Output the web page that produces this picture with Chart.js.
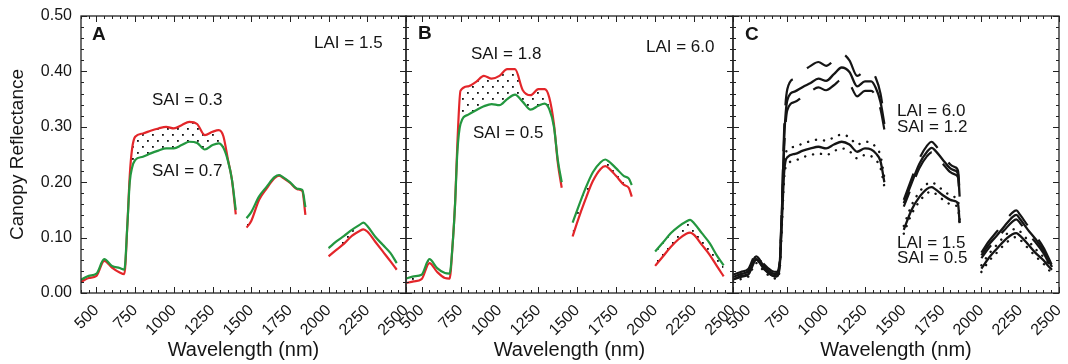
<!DOCTYPE html>
<html>
<head>
<meta charset="utf-8">
<script src="https://cdn.jsdelivr.net/npm/chart.js@4"></script>
<style>
  html, body { margin: 0; padding: 0; background: #fff; }
  #wrap { position: relative; width: 1068px; height: 364px; }
  #wrap canvas { position: absolute; left: 0; top: 0; }
</style>
</head>
<body>
<div id="wrap">
  <canvas id="panelA" width="1068" height="364"></canvas>
  <canvas id="panelB" width="1068" height="364"></canvas>
  <canvas id="panelC" width="1068" height="364"></canvas>
</div>
<script>
// wavelength grid (nm); null values break the line at water bands
const wl = [400, 450, 500, 550, 600, 650, 680, 700, 715, 730, 750, 800, 850, 900, 950, 1000, 1050, 1100, 1150, 1200,
  1250, 1290, 1320, 1350, 1375, 1400, 1440, 1470, 1500, 1550, 1600, 1650, 1680, 1700, 1750, 1800, 1830, 1850, 1860,
  1930, 2000, 2050, 2100, 2150, 2200, 2225, 2250, 2300, 2350, 2400, 2440, 2455];

const xTicks = [500, 750, 1000, 1250, 1500, 1750, 2000, 2250, 2500];
const yTicks = [0, 0.1, 0.2, 0.3, 0.4, 0.5];

// Panel A, LAI = 1.5
const aSai03 = [0.020, 0.027, 0.031, 0.058, 0.046, 0.037, 0.034, 0.125, 0.212, 0.260, 0.282, 0.288, 0.293, 0.297, 0.300, 0.297, 0.303, 0.309, 0.305, 0.285,
  0.291, 0.294, 0.283, 0.240, 0.205, 0.142, null, 0.118, 0.130, 0.168, 0.189, 0.207, 0.212, 0.209, 0.199, 0.187, 0.184, 0.141, null,
  null, 0.066, 0.078, 0.089, 0.103, 0.112, 0.115, 0.111, 0.093, 0.075, 0.057, 0.042, null];
const aSai07 = [0.024, 0.031, 0.035, 0.061, 0.049, 0.045, 0.042, 0.125, 0.200, 0.226, 0.240, 0.246, 0.252, 0.257, 0.261, 0.261, 0.267, 0.273, 0.271, 0.259,
  0.267, 0.270, 0.262, 0.238, 0.205, 0.150, null, 0.135, 0.146, 0.174, 0.192, 0.209, 0.213, 0.210, 0.200, 0.188, 0.186, 0.155, null,
  null, 0.081, 0.093, 0.103, 0.114, 0.123, 0.127, 0.121, 0.102, 0.087, 0.072, 0.054, null];

// Panel B, LAI = 6.0
const bSai18 = [0.018, 0.021, 0.025, 0.054, 0.038, 0.027, 0.026, 0.090, 0.160, 0.270, 0.365, 0.373, 0.381, 0.392, 0.387, 0.392, 0.404, 0.404, 0.366, 0.357,
  0.368, 0.368, 0.353, 0.305, 0.235, 0.190, null, 0.102, 0.128, 0.167, 0.202, 0.224, 0.229, 0.226, 0.211, 0.195, 0.190, 0.174, null,
  null, 0.049, 0.066, 0.083, 0.097, 0.107, 0.109, 0.105, 0.087, 0.069, 0.047, 0.030, null];
const bSai05 = [0.026, 0.030, 0.033, 0.061, 0.045, 0.036, 0.035, 0.090, 0.160, 0.255, 0.305, 0.322, 0.330, 0.337, 0.341, 0.339, 0.350, 0.358, 0.345, 0.331,
  0.338, 0.342, 0.332, 0.300, 0.240, 0.200, null, 0.127, 0.150, 0.187, 0.218, 0.236, 0.241, 0.238, 0.225, 0.211, 0.207, 0.195, null,
  null, 0.075, 0.091, 0.108, 0.120, 0.129, 0.132, 0.126, 0.108, 0.090, 0.066, 0.050, null];

// Panel C, LAI = 6.0 / SAI = 1.2 (mean and spread lines)
const cHighMean = [0.029, 0.034, 0.040, 0.066, 0.048, 0.036, 0.034, 0.050, 0.150, 0.280, 0.348, 0.364, 0.372, 0.379, 0.387, 0.383, 0.395, 0.407, 0.399, 0.373,
  0.382, 0.382, 0.370, 0.345, 0.305, null, null, null, 0.162, 0.198, 0.233, 0.255, 0.262, 0.258, 0.241, 0.225, 0.221, 0.214, 0.174,
  null, 0.068, 0.088, 0.104, 0.121, 0.137, 0.141, 0.133, 0.114, 0.097, 0.077, 0.055, 0.047];
const cHighUp = [0.033, 0.038, 0.044, 0.071, 0.052, 0.040, 0.038, 0.055, 0.160, 0.300, 0.368, 0.388, 0.400, 0.410, 0.417, 0.410, 0.420, 0.432, 0.420, 0.392,
  0.400, 0.400, 0.388, 0.360, 0.315, null, null, null, 0.168, 0.206, 0.242, 0.266, 0.273, 0.268, 0.250, 0.232, 0.227, 0.220, 0.180,
  null, 0.073, 0.094, 0.111, 0.129, 0.145, 0.149, 0.141, 0.121, 0.103, 0.082, 0.059, 0.050];
const cHighLow = [0.025, 0.030, 0.036, 0.061, 0.044, 0.032, 0.030, 0.046, 0.145, 0.265, 0.330, 0.345, 0.355, 0.364, 0.371, 0.366, 0.375, 0.385, 0.378, 0.355,
  0.365, 0.365, 0.355, 0.332, 0.295, null, null, null, 0.156, 0.191, 0.225, 0.247, 0.254, 0.250, 0.234, 0.218, 0.214, 0.208, 0.168,
  null, 0.063, 0.082, 0.098, 0.114, 0.129, 0.133, 0.126, 0.107, 0.091, 0.072, 0.051, 0.043];

// Panel C, LAI = 1.5 / SAI = 0.5
const cLowMean = [0.024, 0.029, 0.034, 0.060, 0.043, 0.032, 0.030, 0.045, 0.130, 0.220, 0.245, 0.251, 0.257, 0.261, 0.264, 0.261, 0.268, 0.273, 0.268, 0.255,
  0.261, 0.259, 0.252, 0.238, 0.200, null, null, null, 0.114, 0.150, 0.173, 0.188, 0.191, 0.188, 0.177, 0.168, 0.166, 0.160, 0.126,
  null, 0.044, 0.064, 0.080, 0.095, 0.106, 0.108, 0.103, 0.088, 0.072, 0.059, 0.046, 0.042];
const cLowUp = [0.028, 0.033, 0.038, 0.066, 0.048, 0.036, 0.034, 0.050, 0.140, 0.232, 0.258, 0.264, 0.270, 0.274, 0.277, 0.275, 0.281, 0.286, 0.281, 0.268,
  0.273, 0.271, 0.263, 0.248, 0.208, null, null, null, 0.121, 0.158, 0.182, 0.197, 0.200, 0.197, 0.186, 0.176, 0.173, 0.167, 0.132,
  null, 0.050, 0.071, 0.087, 0.103, 0.114, 0.116, 0.111, 0.095, 0.079, 0.065, 0.051, 0.047];
const cLowDown = [0.020, 0.025, 0.030, 0.054, 0.039, 0.028, 0.026, 0.040, 0.120, 0.208, 0.232, 0.239, 0.245, 0.249, 0.252, 0.249, 0.256, 0.261, 0.256, 0.243,
  0.249, 0.247, 0.240, 0.226, 0.192, null, null, null, 0.107, 0.142, 0.165, 0.180, 0.183, 0.180, 0.169, 0.160, 0.158, 0.153, 0.120,
  null, 0.038, 0.058, 0.073, 0.088, 0.099, 0.101, 0.096, 0.081, 0.066, 0.053, 0.040, 0.037];

const RED = '#e3262a';
const GREEN = '#23973f';
const INK = '#151515';
const FONT = "'Liberation Sans', Arial, Helvetica, sans-serif";

Chart.defaults.font.family = FONT;
Chart.defaults.color = INK;

const pts = arr => wl.map((x, i) => ({ x: x, y: arr[i] }));

// dotted fill between two curves
function stipple() {
  const c = document.createElement('canvas');
  c.width = 10; c.height = 12;
  const g = c.getContext('2d');
  g.fillStyle = '#111';
  g.fillRect(2, 2, 1.8, 1.8);
  g.fillRect(7, 8, 1.8, 1.8);
  return g.createPattern(c, 'repeat');
}

// box frame with inward tick marks on all four sides
const frame = {
  id: 'frame',
  afterDatasetsDraw(chart) {
    const { ctx, chartArea: a, scales: { x, y } } = chart;
    ctx.save();
    ctx.strokeStyle = '#222';
    ctx.lineWidth = 1.3;
    ctx.strokeRect(a.left, a.top, a.right - a.left, a.bottom - a.top);
    ctx.lineWidth = 1;
    ctx.beginPath();
    for (let v = 400; v <= 2500; v += 50) {
      const px = Math.round(x.getPixelForValue(v)) + 0.5;
      const len = v % 250 === 0 ? 6 : 3;
      ctx.moveTo(px, a.bottom); ctx.lineTo(px, a.bottom - len);
      ctx.moveTo(px, a.top); ctx.lineTo(px, a.top + len);
    }
    for (let k = 0; k <= 25; k++) {
      const py = Math.round(y.getPixelForValue(k * 0.02)) + 0.5;
      const len = k % 5 === 0 ? 6 : 3;
      ctx.moveTo(a.left, py); ctx.lineTo(a.left + len, py);
      ctx.moveTo(a.right, py); ctx.lineTo(a.right - len, py);
    }
    ctx.stroke();
    ctx.restore();
  }
};

// text labels placed in data units
function notes(items) {
  return {
    id: 'notes',
    afterDraw(chart) {
      const { ctx, scales: { x, y } } = chart;
      ctx.save();
      ctx.fillStyle = INK;
      ctx.textAlign = 'left';
      ctx.textBaseline = 'middle';
      items.forEach(n => {
        ctx.font = (n.bold ? 'bold ' : '') + n.size + 'px ' + FONT;
        ctx.fillText(n.text, x.getPixelForValue(n.x), y.getPixelForValue(n.y));
      });
      ctx.restore();
    }
  };
}

function xScale() {
  return {
    type: 'linear', min: 400, max: 2500,
    afterBuildTicks: s => { s.ticks = xTicks.map(v => ({ value: v })); },
    afterFit: s => { s.height = 71; s.paddingLeft = 0; s.paddingRight = 0; },
    grid: { display: false, drawTicks: false },
    border: { display: false },
    ticks: { autoSkip: false, minRotation: 45, maxRotation: 45, padding: 8, font: { size: 16 }, color: INK,
      callback: v => String(v) },
    title: { display: true, text: 'Wavelength (nm)', font: { size: 20 }, color: INK, padding: { top: 0, bottom: 2 } }
  };
}

function yScale(showLabels) {
  const s = {
    type: 'linear', min: 0, max: 0.5,
    display: showLabels,
    afterBuildTicks: sc => { sc.ticks = yTicks.map(v => ({ value: v })); },
    grid: { display: false, drawTicks: false },
    border: { display: false }
  };
  if (showLabels) {
    s.afterFit = sc => { sc.width = 81; sc.paddingTop = 0; sc.paddingBottom = 0; };
    s.ticks = { padding: 9, font: { size: 16 }, color: INK, callback: v => v.toFixed(2) };
    s.title = { display: true, text: 'Canopy Reflectance', font: { size: 19 }, color: INK, padding: { top: 6, bottom: 0 } };
  }
  return s;
}

function line(arr, color, extra) {
  return Object.assign({
    data: pts(arr), borderColor: color, borderWidth: 2.2, pointRadius: 0,
    cubicInterpolationMode: 'monotone', spanGaps: false, fill: false
  }, extra || {});
}

function panel(id, datasets, padLeft, padRight, showY, items) {
  new Chart(document.getElementById(id), {
    type: 'line',
    data: { datasets: datasets },
    options: {
      responsive: false,
      animation: false,
      layout: { padding: { left: padLeft, right: padRight, top: 16, bottom: 0 } },
      plugins: { legend: { display: false }, tooltip: { enabled: false } },
      scales: { x: xScale(), y: yScale(showY) }
    },
    plugins: [frame, notes(items)]
  });
}

panel('panelA', [
  line(aSai07, GREEN),
  line(aSai03, RED, { fill: '-1', backgroundColor: stipple() })
], 0, 662, true, [
  { text: 'A', x: 471, y: 0.466, size: 19, bold: true },
  { text: 'LAI = 1.5', x: 1906, y: 0.451, size: 17 },
  { text: 'SAI = 0.3', x: 859, y: 0.348, size: 17 },
  { text: 'SAI = 0.7', x: 859, y: 0.220, size: 17 }
]);

panel('panelB', [
  line(bSai05, GREEN),
  line(bSai18, RED, { fill: '-1', backgroundColor: stipple() })
], 406, 335, false, [
  { text: 'B', x: 477, y: 0.4675, size: 19, bold: true },
  { text: 'LAI = 6.0', x: 1941, y: 0.444, size: 17 },
  { text: 'SAI = 1.8', x: 817, y: 0.431, size: 17 },
  { text: 'SAI = 0.5', x: 830, y: 0.289, size: 17 }
]);

const dotted = { borderDash: [0.1, 8], borderCapStyle: 'round', borderWidth: 2.4 };
panel('panelC', [
  line(cHighMean, INK, { borderWidth: 2.3 }),
  line(cHighUp, INK, { borderDash: [28, 18] }),
  line(cHighLow, INK, { borderDash: [30, 16], borderDashOffset: 14 }),
  line(cLowMean, INK, { borderWidth: 2.3 }),
  line(cLowUp, INK, dotted),
  line(cLowDown, INK, dotted)
], 733, 9, false, [
  { text: 'C', x: 477, y: 0.466, size: 19, bold: true },
  { text: 'LAI = 6.0', x: 1456, y: 0.3285, size: 17 },
  { text: 'SAI = 1.2', x: 1456, y: 0.2996, size: 17 },
  { text: 'LAI = 1.5', x: 1456, y: 0.0903, size: 17 },
  { text: 'SAI = 0.5', x: 1456, y: 0.0632, size: 17 }
]);
</script>
</body>
</html>
